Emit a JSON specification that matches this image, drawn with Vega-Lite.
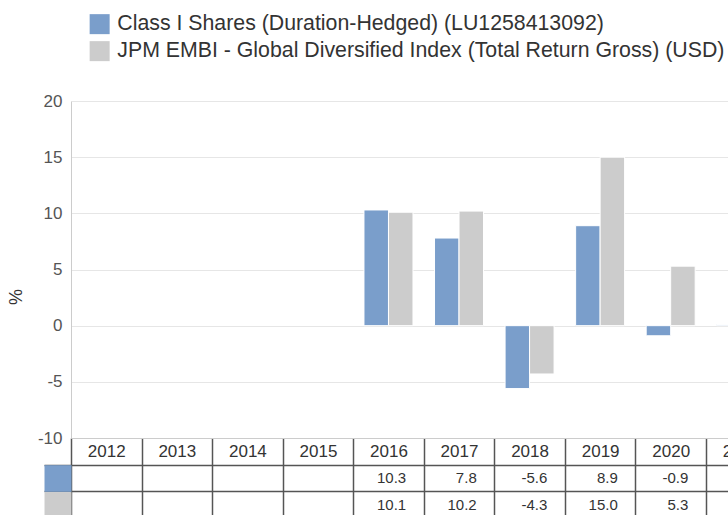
{
  "$schema": "https://vega.github.io/schema/vega-lite/v6.json",
  "width": 657,
  "height": 414,
  "autosize": {"type": "none"},
  "padding": {"left": 71, "top": 101, "right": 0, "bottom": 0},
  "config": {
    "font": "Liberation Sans",
    "view": {"stroke": null},
    "locale": {"number": {"decimal": ".", "thousands": ",", "grouping": [3], "currency": ["$", ""], "minus": "-"}}
  },
  "data": {
    "values": [
      {"year": "2016", "key": "fund", "series": "Class I Shares (Duration-Hedged) (LU1258413092)", "value": 10.3},
      {"year": "2017", "key": "fund", "series": "Class I Shares (Duration-Hedged) (LU1258413092)", "value": 7.8},
      {"year": "2018", "key": "fund", "series": "Class I Shares (Duration-Hedged) (LU1258413092)", "value": -5.6},
      {"year": "2019", "key": "fund", "series": "Class I Shares (Duration-Hedged) (LU1258413092)", "value": 8.9},
      {"year": "2020", "key": "fund", "series": "Class I Shares (Duration-Hedged) (LU1258413092)", "value": -0.9},
      {"year": "2021", "key": "fund", "series": "Class I Shares (Duration-Hedged) (LU1258413092)", "value": 0.1},
      {"year": "2016", "key": "index", "series": "JPM EMBI - Global Diversified Index (Total Return Gross) (USD)", "value": 10.1},
      {"year": "2017", "key": "index", "series": "JPM EMBI - Global Diversified Index (Total Return Gross) (USD)", "value": 10.2},
      {"year": "2018", "key": "index", "series": "JPM EMBI - Global Diversified Index (Total Return Gross) (USD)", "value": -4.3},
      {"year": "2019", "key": "index", "series": "JPM EMBI - Global Diversified Index (Total Return Gross) (USD)", "value": 15.0},
      {"year": "2020", "key": "index", "series": "JPM EMBI - Global Diversified Index (Total Return Gross) (USD)", "value": 5.3}
    ]
  },
  "encoding": {
    "x": {
      "field": "year",
      "type": "ordinal",
      "scale": {
        "domain": ["2012", "2013", "2014", "2015", "2016", "2017", "2018", "2019", "2020", "2021"],
        "range": [0, 705.5],
        "paddingInner": 0,
        "paddingOuter": 0
      },
      "axis": {
        "orient": "bottom",
        "offset": -77,
        "domain": true,
        "domainColor": "#cccccc",
        "domainWidth": 1,
        "ticks": true,
        "tickBand": "extent",
        "tickSize": 80,
        "tickColor": "#555555",
        "tickWidth": 1.5,
        "grid": false,
        "labels": true,
        "labelFontSize": 17,
        "labelColor": "#333333",
        "labelPadding": -67,
        "labelBaseline": "middle",
        "labelAngle": 0,
        "labelFlush": false,
        "labelOverlap": false,
        "title": null
      }
    }
  },
  "layer": [
    {
      "mark": {"type": "bar", "stroke": "white", "strokeWidth": 1},
      "encoding": {
        "xOffset": {
          "field": "series",
          "type": "nominal",
          "scale": {"paddingOuter": 0.44, "paddingInner": 0}
        },
        "y": {
          "field": "value",
          "type": "quantitative",
          "scale": {"domain": [-10, 20], "range": [337, 0], "nice": false, "zero": false},
          "axis": {
            "orient": "left",
            "values": [-10, -5, 0, 5, 10, 15, 20],
            "grid": true,
            "gridColor": "#e6e6e6",
            "gridWidth": 1,
            "domain": true,
            "domainColor": "#cccccc",
            "ticks": false,
            "labelPadding": 9,
            "labelFontSize": 17,
            "labelColor": "#555555",
            "title": "%",
            "titleFontSize": 18,
            "titleColor": "#333333",
            "titleFontWeight": "normal",
            "titleX": -55,
            "titleY": 195.5,
            "titleAngle": -90,
            "titleAlign": "center",
            "titleBaseline": "middle"
          }
        },
        "color": {
          "field": "series",
          "type": "nominal",
          "scale": {
            "domain": ["Class I Shares (Duration-Hedged) (LU1258413092)", "JPM EMBI - Global Diversified Index (Total Return Gross) (USD)"],
            "range": ["#7a9ecb", "#cccccc"]
          },
          "legend": {
            "orient": "none",
            "legendX": 18,
            "legendY": -87.5,
            "title": null,
            "direction": "vertical",
            "symbolType": "square",
            "symbolSize": 400,
            "symbolStrokeWidth": 0,
            "symbolOpacity": 1,
            "labelFontSize": 21.3,
            "labelColor": "#333333",
            "labelLimit": 1000,
            "labelOffset": 7,
            "rowPadding": 5,
            "padding": 0
          }
        }
      }
    },
    {
      "transform": [{"filter": "datum.key === 'fund'"}],
      "mark": {"type": "text", "align": "right", "baseline": "middle", "dx": 17.7, "fontSize": 15, "color": "#333333"},
      "encoding": {
        "y": {
          "field": "key",
          "type": "nominal",
          "scale": {"domain": ["hdr", "fund", "index"], "range": [337, 417], "paddingInner": 0, "paddingOuter": 0},
          "axis": {
            "orient": "left",
            "values": ["hdr", "fund"],
            "tickOffset": 13.33,
            "labels": false,
            "domain": false,
            "ticks": true,
            "tickSize": 27,
            "tickWidth": 1.5,
            "tickColor": "#555555",
            "grid": true,
            "gridColor": "#555555",
            "gridWidth": 1.5,
            "title": null
          }
        },
        "text": {"field": "value", "type": "quantitative", "format": ".1f"}
      }
    },
    {
      "transform": [{"filter": "datum.key === 'index'"}],
      "mark": {"type": "text", "align": "right", "baseline": "middle", "dx": 17.7, "fontSize": 15, "color": "#333333"},
      "encoding": {
        "y": {
          "field": "key",
          "type": "nominal",
          "scale": {"domain": ["hdr", "fund", "index"], "range": [337, 417], "paddingInner": 0, "paddingOuter": 0},
          "axis": {
            "orient": "left",
            "values": ["fund", "index"],
            "labels": false,
            "domain": false,
            "grid": false,
            "ticks": true,
            "tickSize": 27,
            "tickWidth": 26.67,
            "tickColor": {"condition": {"test": "datum.value === 'fund'", "value": "#7a9ecb"}, "value": "#cccccc"},
            "title": null
          }
        },
        "text": {"field": "value", "type": "quantitative", "format": ".1f"}
      }
    }
  ],
  "resolve": {"scale": {"y": "independent"}}
}
